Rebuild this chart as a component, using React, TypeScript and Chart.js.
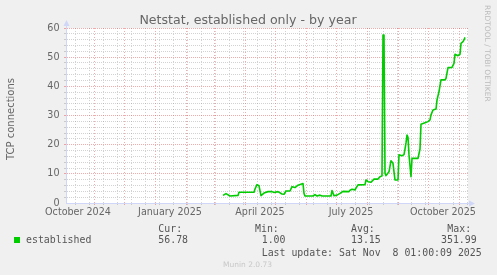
import React, { useEffect, useRef } from 'react';
import { Chart, registerables } from 'chart.js';

Chart.register(...registerables);

// All x values are days counted from 2025-01-01
const sampleDays = [68, 71, 75, 83, 84, 99, 100, 102, 104, 106, 109, 113, 117, 119, 123, 127, 129, 131, 135, 137, 140, 143, 148, 149, 150, 158, 160, 162, 165, 167, 176, 177, 179, 182, 185, 188, 194, 195, 197, 200, 201, 203, 210, 211, 213, 216, 219, 223, 225, 227, 228, 229, 230, 231, 234, 236, 238, 239, 240, 243, 244, 247, 249, 250, 251, 252, 253, 254, 256, 257, 263, 265, 266, 270, 273, 275, 276, 278, 281, 282, 284, 286, 290, 291, 293, 297, 299, 300, 303, 305, 306, 308, 309, 310];
const establishedValues = [2.6, 3.2, 2.4, 2.6, 3.7, 3.7, 4.8, 6.3, 5.9, 2.5, 3.4, 3.9, 3.9, 3.6, 3.9, 3.1, 3.0, 4.1, 4.1, 5.6, 5.3, 6.1, 6.7, 3.3, 2.4, 2.4, 2.9, 2.4, 2.7, 2.4, 2.4, 4.3, 2.5, 2.7, 3.3, 4.0, 3.9, 4.4, 4.7, 4.5, 5.1, 6.2, 6.3, 7.9, 7.3, 7.1, 8.2, 8.2, 9.0, 9.3, 57.6, 57.6, 10.2, 9.4, 10.7, 14.5, 13.6, 10.7, 7.9, 7.9, 16.5, 16.2, 16.6, 18.5, 20.6, 23.3, 22.5, 16.5, 9.0, 15.3, 15.3, 18.5, 27.0, 27.5, 27.9, 28.5, 30.2, 31.9, 32.2, 35.3, 38.2, 42.2, 42.2, 42.7, 46.4, 46.5, 47.9, 51.0, 50.5, 51.0, 54.7, 55.3, 55.9, 56.78];

const monthStartDays = [-61, -31, 0, 31, 59, 90, 120, 151, 181, 212, 243, 273, 304];
const minorGridDays = [-80, -66, -52, -38, -24, -10, 4, 18, 32, 46, 60, 74, 88, 102, 116, 130, 144, 158, 172, 186, 200, 214, 228, 242, 256, 270, 284, 298, 312];
const axisLabelDays = [-77, 15, 105, 196, 288];
const axisLabels = ['October 2024', 'January 2025', 'April 2025', 'July 2025', 'October 2025'];

const X_MIN = -89;
const X_MAX = 313;
const Y_MAX = 60;

const titleText = 'Netstat, established only - by year';
const yTitle = 'TCP connections';
const seriesName = 'established';
const statHeaders = ['Cur:', 'Min:', 'Avg:', 'Max:'];
const statValues = ['56.78', '1.00', '13.15', '351.99'];
const lastUpdate = 'Last update: Sat Nov  8 01:00:09 2025';
const creditText = 'RRDTOOL / TOBI OETIKER';
const versionText = 'Munin 2.0.73';

const GREEN = '#00CC00';
const AXIS = '#CFD6F8';
const MINOR = 'rgba(143,143,143,0.4)';
const MAJOR = 'rgba(222,72,72,0.45)';
const FONT_COL = '#666666';

const majorSet = new Set(monthStartDays);
const minorSet = new Set(minorGridDays);
const labelMap = new Map(axisLabelDays.map((d, i) => [d, axisLabels[i]]));

function xGridColor(v: number) {
  if (majorSet.has(v)) return MAJOR;
  if (minorSet.has(v)) return MINOR;
  return 'rgba(0,0,0,0)';
}
function yGridColor(v: number) {
  if (v === 0) return 'rgba(0,0,0,0)';
  return v % 10 === 0 ? MAJOR : MINOR;
}

const decor = {
  id: 'decor',
  beforeDraw(chart: any) {
    const { ctx, chartArea: a } = chart;
    ctx.save();
    ctx.fillStyle = '#F0F0F0';
    ctx.fillRect(0, 0, chart.width, chart.height);
    ctx.fillStyle = '#FFFFFF';
    ctx.fillRect(a.left, a.top, a.right - a.left, a.bottom - a.top);
    ctx.restore();
  },
  afterDraw(chart: any) {
    const { ctx, chartArea: a } = chart;
    ctx.save();
    ctx.strokeStyle = AXIS;
    ctx.fillStyle = AXIS;
    ctx.lineWidth = 1;
    const ax = Math.round(a.left) + 0.5;
    const ay = Math.round(a.bottom) + 0.5;
    ctx.beginPath();
    ctx.moveTo(ax, a.top);
    ctx.lineTo(ax, a.top - 3);
    ctx.moveTo(a.right, ay);
    ctx.lineTo(a.right + 2, ay);
    ctx.stroke();
    ctx.beginPath();
    ctx.moveTo(ax, a.top - 8);
    ctx.lineTo(ax - 3, a.top - 2);
    ctx.lineTo(ax + 3, a.top - 2);
    ctx.closePath();
    ctx.fill();
    ctx.beginPath();
    ctx.moveTo(a.right + 7, ay);
    ctx.lineTo(a.right + 1, ay - 3);
    ctx.lineTo(a.right + 1, ay + 3);
    ctx.closePath();
    ctx.fill();

    ctx.fillStyle = FONT_COL;
    ctx.textBaseline = 'alphabetic';
    ctx.textAlign = 'center';
    ctx.font = '12.6px "DejaVu Sans"';
    ctx.fillText(titleText, 248, 24);

    ctx.save();
    ctx.translate(14, 119);
    ctx.rotate(-Math.PI / 2);
    ctx.font = '10px "DejaVu Sans"';
    ctx.fillText(yTitle, 0, 0);
    ctx.restore();

    ctx.save();
    ctx.translate(485, 5);
    ctx.rotate(Math.PI / 2);
    ctx.textAlign = 'left';
    ctx.fillStyle = '#BBBBBB';
    ctx.font = '7.5px "DejaVu Sans"';
    ctx.fillText(creditText, 0, 0);
    ctx.restore();

    ctx.fillStyle = GREEN;
    ctx.fillRect(14, 237, 6, 6);
    ctx.fillStyle = '#555555';
    ctx.textAlign = 'left';
    ctx.font = '9.9px "DejaVu Sans Mono"';
    ctx.fillText(seriesName, 26, 243.3);
    const headX = [158.3, 255, 351, 447.3];
    const valX = [158.3, 261.7, 351, 441];
    statHeaders.forEach((h, i) => ctx.fillText(h, headX[i], 231.7));
    statValues.forEach((v, i) => ctx.fillText(v, valX[i], 243.3));
    ctx.fillText(lastUpdate, 261.7, 255.6);

    ctx.fillStyle = '#C8C8C8';
    ctx.font = '7.5px "DejaVu Sans"';
    ctx.fillText(versionText, 223, 266.5);
    ctx.restore();
  },
};

export default function App() {
  const ref = useRef<HTMLCanvasElement>(null);
  useEffect(() => {
    if (!ref.current) return;
    const points = sampleDays.map((d, i) => ({ x: d, y: establishedValues[i] }));
    const xTicks = Array.from(new Set([...monthStartDays, ...minorGridDays, ...axisLabelDays])).sort((p, q) => p - q);
    const tickFont = { family: 'DejaVu Sans', size: 9.6 };
    const chart = new Chart(ref.current, {
      type: 'line',
      data: {
        datasets: [
          {
            label: seriesName,
            data: points,
            borderColor: GREEN,
            backgroundColor: GREEN,
            borderWidth: 1.6,
            borderJoinStyle: 'round',
            pointRadius: 0,
            tension: 0,
            fill: false,
          },
        ],
      },
      options: {
        animation: false,
        responsive: false,
        devicePixelRatio: 1,
        layout: { padding: { top: 28, right: 29, left: 0, bottom: 0 } },
        plugins: { legend: { display: false }, tooltip: { enabled: false }, title: { display: false } },
        scales: {
          x: {
            type: 'linear',
            min: X_MIN,
            max: X_MAX,
            afterBuildTicks: (scale: any) => {
              scale.ticks = xTicks.map((v) => ({ value: v }));
            },
            afterFit: (scale: any) => {
              scale.height = 72;
            },
            ticks: {
              autoSkip: false,
              maxRotation: 0,
              minRotation: 0,
              padding: 2,
              color: FONT_COL,
              font: tickFont,
              callback: (v: any) => labelMap.get(Number(v)) ?? '',
            },
            grid: {
              color: (c: any) => (c.tick ? xGridColor(c.tick.value) : 'rgba(0,0,0,0)'),
              tickColor: (c: any) => (c.tick ? xGridColor(c.tick.value) : 'rgba(0,0,0,0)'),
              tickLength: 2,
              tickBorderDash: [],
              lineWidth: 1,
            },
            border: { color: AXIS, width: 1, dash: [1, 2] },
          },
          y: {
            type: 'linear',
            min: 0,
            max: Y_MAX,
            afterFit: (scale: any) => {
              scale.width = 66;
            },
            ticks: {
              stepSize: 2,
              autoSkip: false,
              padding: 4.5,
              color: FONT_COL,
              font: tickFont,
              callback: (v: any) => (Number(v) % 10 === 0 ? String(v) : ''),
            },
            grid: {
              color: (c: any) => (c.tick ? yGridColor(c.tick.value) : 'rgba(0,0,0,0)'),
              tickColor: (c: any) => (c.tick ? yGridColor(c.tick.value) : 'rgba(0,0,0,0)'),
              tickLength: 2,
              tickBorderDash: [],
              lineWidth: 1,
            },
            border: { color: AXIS, width: 1, dash: [1, 1] },
          },
        },
      } as any,
      plugins: [decor],
    });
    return () => chart.destroy();
  }, []);
  return (
    <div style={{ position: 'absolute', left: 0, top: 0, width: 497, height: 275 }}>
      <canvas ref={ref} width={497} height={275} style={{ display: 'block', width: 497, height: 275 }} />
    </div>
  );
}
